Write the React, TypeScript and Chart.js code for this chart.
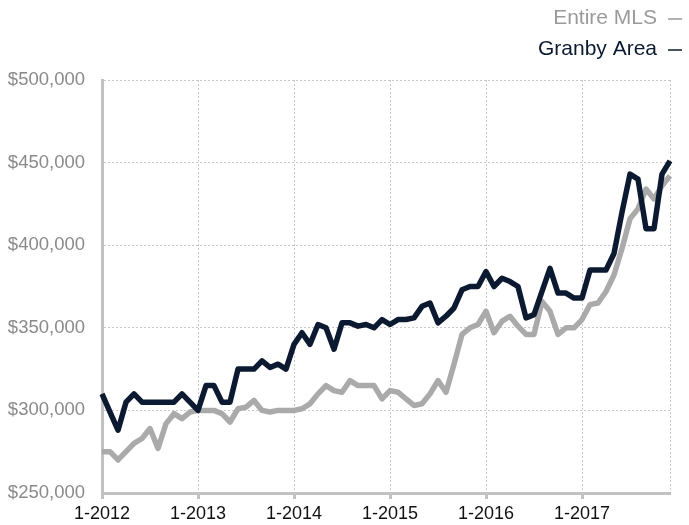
import React, { useEffect, useRef } from 'react';
import { Chart, registerables } from 'chart.js';

Chart.register(...registerables);

const years = [2012, 2013, 2014, 2015, 2016, 2017];
const months = [1, 2, 3, 4, 5, 6, 7, 8, 9, 10, 11, 12];
const labels: string[] = years.flatMap((y) => months.map((m) => `${m}-${y}`));

const seriesNames = ['Entire MLS', 'Granby Area'];

const granbyArea = [
  310, 299, 288, 305, 310, 305, 305, 305, 305, 305, 310, 305,
  300, 315, 315, 305, 305, 325, 325, 325, 330, 326, 328, 325,
  340, 347, 340, 352, 350, 337, 353, 353, 351, 352, 350, 355,
  352, 355, 355, 356, 363, 365, 353, 357, 362, 373, 375, 375,
  384, 375, 380, 378, 375, 356, 358, 372, 386, 371, 371, 368,
  368, 385, 385, 385, 395, 420, 443, 440, 410, 410, 443, 451,
].map((v) => v * 1000);

const entireMLS = [
  275, 275, 270, 275, 280, 283, 289, 277, 292, 298, 295, 299,
  300, 300, 300, 298, 293, 301, 302, 306, 300, 299, 300, 300,
  300, 301, 304, 310, 315, 312, 311, 318, 315, 315, 315, 307,
  312, 311, 307, 303, 304, 310, 318, 311, 328, 346, 350, 352,
  360, 347, 354, 357, 351, 346, 346, 366, 360, 346, 350, 350,
  355, 364, 365, 372, 382, 398, 416, 422, 434, 428, 436, 442,
].map((v) => v * 1000);

const yMin = 250000;
const yMax = 500000;
const yStep = 50000;

const DARK = '#0b1a31';
const GRAY = '#aaaaaa';
const GRID = '#c9c9c9';
const AXIS = '#c2c2c2';
const FONT = '"Liberation Sans", Arial, Helvetica, sans-serif';

export default function App() {
  const ref = useRef<HTMLCanvasElement | null>(null);

  useEffect(() => {
    if (!ref.current) return;
    const legendItems = [
      { label: seriesNames[0], color: '#9a9a9a' },
      { label: seriesNames[1], color: DARK },
    ];
    const legendPlugin = {
      id: 'rightLegend',
      afterDraw(chart: any) {
        const ctx = chart.ctx;
        ctx.save();
        ctx.font = `21px ${FONT}`;
        ctx.textAlign = 'right';
        ctx.textBaseline = 'middle';
        legendItems.forEach((it, i) => {
          const y = 18 + i * 31;
          ctx.fillStyle = it.color;
          ctx.fillText(it.label, 657, y);
          ctx.strokeStyle = it.color;
          ctx.lineWidth = 1.5;
          ctx.beginPath();
          ctx.moveTo(668, y + 1);
          ctx.lineTo(682, y + 1);
          ctx.stroke();
        });
        ctx.restore();
      },
    };

    const isYear = (i: number) => i % 12 === 0;

    const chart = new Chart(ref.current, {
      type: 'line',
      data: {
        labels,
        datasets: [
          {
            label: seriesNames[1],
            data: granbyArea,
            borderColor: DARK,
            backgroundColor: DARK,
            borderWidth: 5.5,
            pointRadius: 0,
            tension: 0,
            fill: false,
            borderJoinStyle: 'round',
            order: 0,
          },
          {
            label: seriesNames[0],
            data: entireMLS,
            borderColor: GRAY,
            backgroundColor: GRAY,
            borderWidth: 5.5,
            pointRadius: 0,
            tension: 0,
            fill: false,
            borderJoinStyle: 'round',
            order: 1,
          },
        ],
      },
      options: {
        responsive: false,
        animation: false,
        layout: { padding: { top: 80, right: 19, left: 0, bottom: 0 } },
        plugins: {
          legend: { display: false },
          tooltip: { enabled: false },
          title: { display: false },
        },
        scales: {
          x: {
            grid: {
              color: (c: any) => (isYear(c.index) || c.index === labels.length - 1 ? GRID : 'rgba(0,0,0,0)'),
              lineWidth: 1,
              tickLength: 6,
              tickWidth: 3,
              tickColor: (c: any) => (isYear(c.index) ? AXIS : 'rgba(0,0,0,0)'),
              tickBorderDash: [],
            },
            border: { color: AXIS, width: 3, dash: [2, 2] },
            ticks: {
              autoSkip: false,
              maxRotation: 0,
              minRotation: 0,
              callback: (_v: any, i: number) => (isYear(i) ? labels[i] : ''),
              color: '#111111',
              font: { size: 18, family: FONT },
              padding: 4,
            },
            afterFit: (s: any) => {
              s.height = 32;
            },
          },
          y: {
            min: yMin,
            max: yMax,
            ticks: {
              stepSize: yStep,
              callback: (v: any) => '$' + Number(v).toLocaleString('en-US'),
              color: '#8a8a8a',
              font: { size: 18.5, family: FONT },
              padding: 17,
            },
            grid: { color: GRID, drawTicks: false, tickLength: 0, lineWidth: 1 },
            border: { color: AXIS, width: 3, dash: [2, 2] },
            afterFit: (s: any) => {
              s.width = 102;
            },
          },
        },
      },
      plugins: [legendPlugin],
    } as any);

    return () => chart.destroy();
  }, []);

  return (
    <div style={{ position: 'fixed', left: 0, top: 0, width: 689, height: 525, background: '#fff' }}>
      <canvas ref={ref} width={689} height={525} style={{ display: 'block' }} />
    </div>
  );
}
